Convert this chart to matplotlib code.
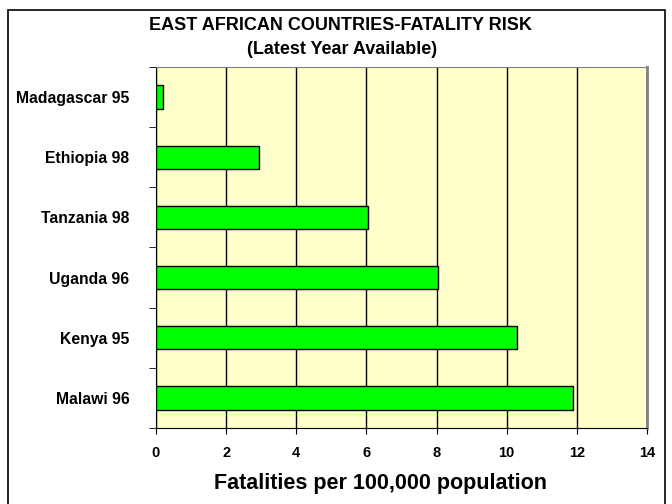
import matplotlib.pyplot as plt
from matplotlib.patches import Rectangle
import numpy as np

plt.rcParams['font.family'] = ['Liberation Sans', 'DejaVu Sans']
plt.rcParams['font.weight'] = 'bold'

# 数据
countries = ["Madagascar 95", "Ethiopia 98", "Tanzania 98", "Uganda 96", "Kenya 95", "Malawi 96"]
fatalities = [0.2, 2.95, 6.05, 8.05, 10.3, 11.9]
x_ticks = [0, 2, 4, 6, 8, 10, 12, 14]

W, H = 672, 504
fig = plt.figure(figsize=(W / 100, H / 100), dpi=100)
ax = fig.add_axes([156 / W, 1 - 428 / H, (647 - 156) / W, (428 - 67) / H])

# 外框（下边超出图片）
fig.patches.append(Rectangle((8 / W, -0.05), 657 / W, 1 - 10 / H + 0.05, transform=fig.transFigure,
                             fill=False, edgecolor='black', linewidth=1.2))

ypos = np.arange(len(countries))[::-1]
ax.barh(ypos, fatalities, height=0.39, color='#00FF00', edgecolor='black', linewidth=1, zorder=3)

ax.set_facecolor('#FFFFCC')
ax.set_xlim(0, 14)
ax.set_ylim(-0.5, len(countries) - 0.5)
ax.set_xticks(x_ticks)
ax.set_xticklabels([str(t) for t in x_ticks], fontsize=10.5, fontweight='bold')
ax.xaxis.grid(True, color='black', linewidth=1, zorder=1)
ax.set_axisbelow(True)

ax.set_yticks(ypos)
ax.set_yticklabels(countries, fontsize=11.3, fontweight='bold')
ax.tick_params(axis='y', length=0, pad=19)
ax.set_yticks(np.arange(-0.5, len(countries)), minor=True)
ax.tick_params(axis='y', which='minor', length=5, direction='out')
ax.tick_params(axis='x', length=4, direction='out', pad=9)

ax.spines['left'].set_color('black')
ax.spines['bottom'].set_color('black')
ax.spines['top'].set_color('#808080')
ax.spines['right'].set_color('#808080')
ax.spines['right'].set_linewidth(2)

# x轴标题
fig.text(381 / W, 1 - 483 / H, "Fatalities per 100,000 population", ha='center', va='center',
         fontsize=15.5, fontweight='bold')

# 标题
fig.text(340 / W, 1 - 26 / H, "EAST AFRICAN COUNTRIES-FATALITY RISK", ha='center', va='center',
         fontsize=13, fontweight='bold')
fig.text(342 / W, 1 - 49 / H, "(Latest Year Available)", ha='center', va='center',
         fontsize=13, fontweight='bold')

fig.savefig("out.png", dpi=100)
